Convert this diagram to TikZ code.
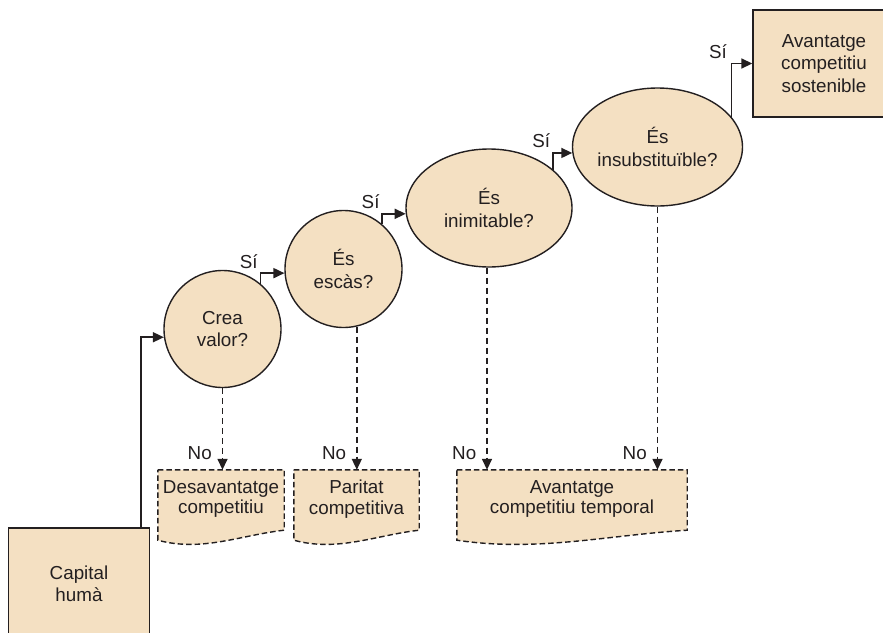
\documentclass[tikz,border=0pt]{standalone}
\usepackage{fontspec}
\setmainfont{Liberation Sans}
\usetikzlibrary{arrows.meta,calc,shapes.geometric,backgrounds}
\definecolor{boxfill}{RGB}{244,224,194}
\definecolor{ink}{RGB}{35,31,32}
% dashed document outline around an outcome node
\newcommand{\docoutline}[1]{%
  \draw[docline] (#1.north west) -- (#1.north east) -- ([yshift=-2pt]#1.south east)
    .. controls ([yshift=-7pt]$(#1.south west)!0.65!(#1.south east)$) and ([yshift=-24pt]$(#1.south west)!0.35!(#1.south east)$)
    .. ([yshift=-12pt]#1.south west) -- cycle;}

\begin{document}
\begin{tikzpicture}[x=1pt, y=-1pt, >={Triangle[length=11pt, width=10pt]},
  every node/.style={font=\fontsize{18.8}{22.5}\selectfont, text=ink},
  block/.style={draw=ink, line width=1.4pt, fill=boxfill, align=center, inner sep=2pt},
  question/.style={circle, draw=ink, line width=1.4pt, fill=boxfill, align=center, inner sep=1pt, minimum size=117pt},
  wide question/.style={ellipse, draw=ink, line width=1.4pt, fill=boxfill, align=center, inner sep=0pt, minimum width=166pt, minimum height=118pt},
  outcome/.style={align=center, inner sep=1pt, font=\fontsize{18.8}{20.5}\selectfont},
  docline/.style={draw=ink, fill=boxfill, line width=1.4pt, dash pattern=on 5.5pt off 3pt},
  yesline/.style={->, draw=ink, line width=1.7pt},
  noline/.style={->, draw=ink, line width=1.5pt, dash pattern=on 6pt off 4pt},
  silbl/.style={anchor=south east, inner sep=0pt, xshift=-2pt, yshift=4pt},
  nolbl/.style={anchor=south east, inner sep=0pt, xshift=-10pt, yshift=9pt}]
  \useasboundingbox (0,0) rectangle (883,632);
  \clip (0,0) rectangle (883,632);

  \node[block, minimum width=141pt, minimum height=112pt] (capital) at (79,584) {Capital\\humà};
  \node[question] (crea) at (222.5,329) {Crea\\valor?};
  \node[question] (escas) at (343.5,269) {És\\escàs?};
  \node[wide question] (inimit) at (489,208) {És\\inimitable?};
  \node[wide question, minimum width=165pt] (insub) at (657.5,147) {És\\insubstituïble?};
  \node[block, minimum width=142pt, minimum height=107pt] (final) at (824,63.5) {Avantatge\\competitiu\\sostenible};

  \node[outcome, minimum width=126pt, minimum height=58pt] (desav) at (221,499) {Desavantatge\\competitiu};
  \node[outcome, minimum width=125pt, minimum height=58pt] (paritat) at (356.5,499) {Paritat\\competitiva};
  \node[outcome, minimum width=230pt, minimum height=58pt] (temporal) at (572,499) {Avantatge\\competitiu temporal};
  \begin{pgfonlayer}{background}
    \docoutline{desav}
    \docoutline{paritat}
    \docoutline{temporal}
  \end{pgfonlayer}

  % yes path
  \draw[yesline] ([xshift=-9pt]capital.north east) |- (crea.188);
  \draw[yesline] (crea.50) |- node[silbl] {Sí} (escas.184);
  \draw[yesline] (escas.49) |- node[silbl] {Sí} (inimit.184);
  \draw[yesline] (inimit.31) |- node[silbl] {Sí} (insub.184);
  \draw[yesline] (insub.22) |- node[silbl, xshift=-2pt] {Sí} (final.west);

  % no paths
  \draw[noline] (crea.south) -- (crea.south |- desav.north) node[nolbl] {No};
  \draw[noline] (escas.283) -- (escas.283 |- paritat.north) node[nolbl] {No};
  \draw[noline] ([xshift=-2pt]inimit.south) -- ([xshift=-2pt]inimit.south |- temporal.north) node[nolbl] {No};
  \draw[noline] (insub.south) -- (insub.south |- temporal.north) node[nolbl] {No};
\end{tikzpicture}
\end{document}
